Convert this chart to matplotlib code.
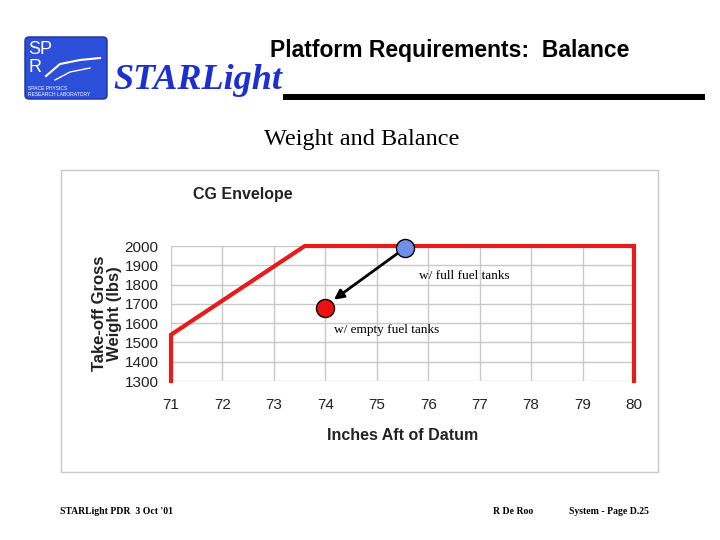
import matplotlib.pyplot as plt
import matplotlib.patches as patches

# envelope outline (inches aft of datum, lbs)
env_x = [71, 71, 73.6, 80, 80]
env_y = [1300, 1540, 2000, 2000, 1300]

# loading points
full_x, full_y = 75.55, 1990
empty_x, empty_y = 74.0, 1680

x_ticks = [71, 72, 73, 74, 75, 76, 77, 78, 79, 80]
y_ticks = [1300, 1400, 1500, 1600, 1700, 1800, 1900, 2000]

SANS = 'Liberation Sans'
SERIF = 'Liberation Serif'

fig = plt.figure(figsize=(7.2, 5.4), dpi=100)
fig.patch.set_facecolor('white')

# page decorations in figure pixel coords
bg = fig.add_axes([0, 0, 1, 1])
bg.set_xlim(0, 720)
bg.set_ylim(540, 0)
bg.axis('off')

# logo
logo = patches.FancyBboxPatch((25, 37), 82, 62, boxstyle='round,pad=0,rounding_size=4',
                              facecolor='#2b4fd8', edgecolor='#1a2f9a', linewidth=1)
bg.add_patch(logo)
bg.text(28, 50, 'SP', color='white', fontsize=13, family=SANS, va='center', ha='left')
bg.text(28, 68, 'R', color='white', fontsize=13, family=SANS, va='center', ha='left')
bg.plot([46, 60, 80, 100], [76, 64, 60, 58], color='white', lw=1.5)
bg.plot([55, 70, 90], [80, 72, 68], color='white', lw=1.0)
bg.text(28, 88, 'SPACE PHYSICS', color='white', fontsize=3.6, family=SANS, va='center')
bg.text(28, 94, 'RESEARCH LABORATORY', color='white', fontsize=3.6, family=SANS, va='center')

bg.text(113, 89, 'STARLight', color='#1c2fd0', fontsize=26, family=SERIF,
        style='italic', weight='bold', va='baseline', ha='left')
bg.text(270, 51, 'Platform Requirements:  Balance', color='black', fontsize=16.5,
        family=SANS, weight='bold', va='center', ha='left')
bg.add_patch(patches.Rectangle((283, 94), 422, 6, facecolor='black', edgecolor='none'))

bg.text(362, 139, 'Weight and Balance', fontsize=17.5, family=SERIF, ha='center', va='center')

# chart frame
bg.add_patch(patches.Rectangle((61, 170), 597, 302, facecolor='white',
                               edgecolor='#c8c8c8', linewidth=1))
bg.text(193, 195, 'CG Envelope', fontsize=11.5, weight='bold', family=SANS,
        color='#222222', ha='left', va='center')

# footer
bg.text(60, 512, "STARLight PDR  3 Oct '01", fontsize=7, family=SERIF, weight='bold', va='center')
bg.text(493, 512, 'R De Roo', fontsize=7, family=SERIF, weight='bold', va='center')
bg.text(569, 512, 'System - Page D.25', fontsize=7, family=SERIF, weight='bold', va='center')

# the chart itself
ax = fig.add_axes([171 / 720, 1 - 381 / 540, 463 / 720, 135 / 540])
ax.set_xlim(71, 80)
ax.set_ylim(1300, 2000)
ax.set_xticks(x_ticks)
ax.set_yticks(y_ticks)
ax.grid(True, color='#c8c8c8', linewidth=1)
ax.set_axisbelow(True)
for s in ax.spines.values():
    s.set_visible(False)
ax.tick_params(length=0, labelsize=11)
for lab in ax.get_xticklabels() + ax.get_yticklabels():
    lab.set_family(SANS)
    lab.set_color('#222222')
ax.tick_params(axis='x', pad=12)
ax.tick_params(axis='y', pad=9)

ax.plot(env_x, env_y, color='#e81a1a', linewidth=3, clip_on=False, solid_joinstyle='miter')

ax.annotate('', xy=(empty_x + 0.08, empty_y + 25), xytext=(full_x, full_y),
            arrowprops=dict(arrowstyle='-|>', color='black', lw=2, mutation_scale=14,
                            shrinkA=6, shrinkB=4))
ax.plot([full_x], [full_y], 'o', markersize=13, markerfacecolor='#6f8fe8',
        markeredgecolor='black', markeredgewidth=1, clip_on=False, zorder=5)
ax.plot([empty_x], [empty_y], 'o', markersize=13, markerfacecolor='#ee1111',
        markeredgecolor='black', markeredgewidth=1, clip_on=False, zorder=5)

ax.text(75.82, 1845, 'w/ full fuel tanks', fontsize=9.5, family=SERIF, va='center')
ax.text(74.17, 1565, 'w/ empty fuel tanks', fontsize=9.5, family=SERIF, va='center')

ax.set_xlabel('Inches Aft of Datum', fontsize=11.5, weight='bold', family=SANS,
              color='#222222', labelpad=12)
ax.set_ylabel('Take-off Gross\nWeight (lbs)', fontsize=12, weight='bold', family=SANS,
              color='#222222', labelpad=2, linespacing=1.0)

fig.savefig('out.png', dpi=100)
